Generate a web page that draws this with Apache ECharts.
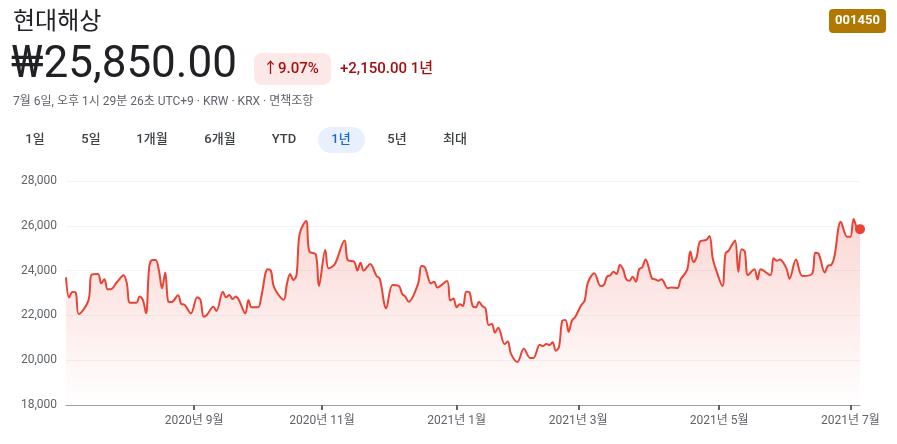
<!DOCTYPE html>
<html>
<head>
<meta charset="utf-8">
<script src="https://cdn.jsdelivr.net/npm/echarts@6/dist/echarts.min.js"></script>
<style>
html,body{margin:0;padding:0;background:#fff;}
#c{width:897px;height:444px;}
</style>
</head>
<body>
<div id="c"></div>
<script>
// trading-day index (0 = 2020-07-06, 248 = 2021-07-06)
const dayIdx = [0,1,2,3,4,7,8,10,11,12,13,14,16,18,19,20,22,23,24,25,26,27,28,29,30,31,32,33,35,36,37,39,41,42,43,44,46,47,49,50,51,52,53,54,56,57,58,60,61,63,64,65,68,69,70,71,72,73,75,76,78,79,81,82,84,87,88,90,91,92,93,95,97,98,100,102,104,105,106,107,110,111,112,114,115,116,119,120,121,122,123,124,125,126,127,128,129,130,131,132,133,134,135,137,138,139,141,143,145,146,148,149,150,151,152,153,154,155,156,157,158,159,161,162,163,165,167,168,169,170,171,172,173,174,175,176,177,178,179,180,181,183,184,185,186,188,189,191,192,194,195,196,197,198,200,201,202,203,205,206,207,208,209,210,211,212,213,215,216,217,220,221,222,223,225,226,228,230,233,234,235,237,238,239,240,242,244,245,246,247,248];
const price = [23700,22800,23050,23030,22060,22660,23820,23850,23430,23610,23170,23170,23500,23790,23430,22570,22570,22840,22690,22090,24170,24470,24470,24030,23210,23910,22610,22600,22900,22510,22480,22090,22810,22690,21940,22020,22390,22200,23060,22810,22910,22730,22840,22690,22090,22690,22360,22360,22840,24060,24000,23250,22700,23400,23850,23580,23800,25660,26210,24850,24730,23310,24920,24100,24300,25340,24470,24400,24000,24350,24000,24300,23760,23640,22320,23360,23310,22960,22840,22610,23430,24200,24170,23430,23500,23250,23540,22660,22760,22360,22500,22420,23060,23030,22420,22360,22610,22420,22320,21570,21620,21230,21450,20720,20830,20280,19920,20510,20100,20100,20690,20630,20720,20680,20800,20420,20600,21760,21800,21270,21760,21920,22470,22660,23460,23880,23310,23360,23730,23790,23950,23850,24250,24060,23610,23550,23730,23500,24060,24150,24500,23660,23610,23550,23610,23210,23250,23220,23610,24030,24850,24380,24620,25290,25370,25550,24550,24060,23310,24770,24890,25150,25340,23940,24950,24850,23800,24060,23610,24060,23800,24550,24440,24500,24100,23640,24500,23760,23850,24800,24770,23910,24220,24250,24620,26180,25510,25510,26300,25930,25850];
const tickIdx = [40,80,122,160,204,245];
const tickLabels = ['2020년 9월','2020년 11월','2021년 1월','2021년 3월','2021년 5월','2021년 7월'];
const tabs = ['1일','5일','1개월','6개월','YTD','1년','5년','최대'];

const FONT = 'Roboto, "Noto Sans CJK KR", sans-serif';
const series = dayIdx.map((d,i)=>[d, price[i]]);
const last = series[series.length-1];

const chart = echarts.init(document.getElementById('c'), null, {renderer:'canvas'});
const tabX = [35,91,152,220,284,341,397,455];
function txt(x,y,t,font,fill,align){
  return {type:'text', x:x, y:y, z:10, style:{text:t, align:align||'left', verticalAlign:'middle', font:font, fill:fill}};
}
const option = {
  animation:false,
  backgroundColor:'#fff',
  grid:{left:66, right:37, top:181, bottom:39},
  xAxis:{
    type:'value', min:0, max:248,
    splitLine:{show:false},
    axisLine:{show:true, lineStyle:{color:'#9aa0a6', width:1}},
    axisTick:{show:true, customValues:tickIdx, length:5, lineStyle:{color:'#5f6368', width:2}},
    axisLabel:{customValues:tickIdx, color:'#5f6368', fontSize:12, fontFamily:FONT, margin:10,
      formatter:(v)=>{const k=tickIdx.indexOf(Math.round(v)); return k>=0?tickLabels[k]:'';}}
  },
  yAxis:{
    type:'value', min:18000, max:28000, interval:2000,
    axisLine:{show:false}, axisTick:{show:false},
    splitLine:{lineStyle:{color:'#f1f3f4', width:1}},
    axisLabel:{color:'#5f6368', fontSize:12, fontFamily:FONT, margin:9,
      formatter:(v)=>v.toString().replace(/\B(?=(\d{3})+(?!\d))/g, ',')}
  },
  series:[{
    type:'line', data:series, smooth:0.35, symbol:'none',
    lineStyle:{color:'#ea4335', width:2},
    areaStyle:{color:new echarts.graphic.LinearGradient(0,0,0,1,[
      {offset:0,color:'rgba(234,67,53,0.30)'},
      {offset:1,color:'rgba(234,67,53,0.0)'}])}
  },{
    type:'scatter', data:[last], symbolSize:10, itemStyle:{color:'#ea4335', opacity:1}, z:5
  }],
  graphic:[
    txt(13,23,'현대해상','400 24px '+FONT,'#202124'),
    txt(11,66,'₩25,850.00','400 44px '+FONT,'#202124'),
    {type:'rect', left:254, top:53, shape:{width:77, height:32, r:8}, style:{fill:'#fce8e6'}},
    txt(263,69,'↑9.07%','500 15px '+FONT,'#a50e0e'),
    txt(340,69,'+2,150.00 1년','500 15px '+FONT,'#a50e0e'),
    txt(13,102,'7월 6일, 오후 1시 29분 26초 UTC+9 · KRW · KRX · 면책조항','400 12px '+FONT,'#5f6368'),
    {type:'rect', left:318, top:127, shape:{width:47, height:26, r:13}, style:{fill:'#e8f0fe'}},
    {type:'rect', left:829, top:9, shape:{width:57, height:24, r:4}, style:{fill:'#b07800'}},
    txt(857.5,21,'001450','700 13px '+FONT,'#ffffff','center')
  ].concat(tabs.map((t,i)=>txt(tabX[i],140,t,'500 13px '+FONT, t==='1년' ? '#1967d2' : '#3c4043','center')))
};
chart.setOption(option);
</script>
</body>
</html>
